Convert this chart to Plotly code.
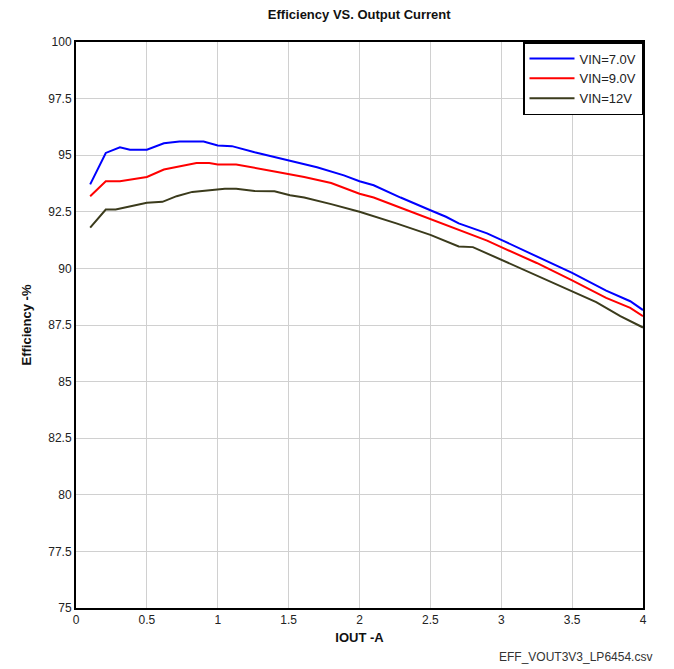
import plotly.graph_objects as go

iout_7 = [0.1, 0.21, 0.31, 0.38, 0.5, 0.62, 0.73, 0.9, 1.0, 1.1, 1.26, 1.42, 1.51, 1.7, 1.89, 2.0, 2.1, 2.29, 2.5, 2.61, 2.7, 2.9, 3.0, 3.25, 3.5, 3.74, 3.91, 4.0]
eff_7 = [93.71, 95.1, 95.35, 95.24, 95.24, 95.53, 95.61, 95.6, 95.43, 95.4, 95.13, 94.88, 94.74, 94.47, 94.11, 93.85, 93.67, 93.13, 92.57, 92.28, 91.99, 91.55, 91.26, 90.53, 89.8, 89.02, 88.55, 88.16]

iout_9 = [0.1, 0.21, 0.31, 0.38, 0.5, 0.62, 0.73, 0.85, 0.94, 1.0, 1.13, 1.26, 1.42, 1.61, 1.8, 2.0, 2.1, 2.29, 2.5, 2.61, 2.9, 3.0, 3.25, 3.5, 3.74, 3.91, 4.0]
eff_9 = [93.19, 93.85, 93.85, 93.93, 94.04, 94.37, 94.5, 94.65, 94.65, 94.59, 94.59, 94.43, 94.26, 94.04, 93.77, 93.3, 93.13, 92.68, 92.17, 91.92, 91.23, 90.94, 90.24, 89.47, 88.7, 88.26, 87.89]

iout_12 = [0.1, 0.21, 0.28, 0.38, 0.5, 0.61, 0.71, 0.82, 0.94, 1.05, 1.13, 1.26, 1.4, 1.51, 1.61, 1.8, 2.0, 2.26, 2.5, 2.7, 2.8, 3.0, 3.25, 3.5, 3.67, 3.84, 4.0]
eff_12 = [91.8, 92.6, 92.6, 92.75, 92.9, 92.94, 93.19, 93.38, 93.45, 93.52, 93.52, 93.42, 93.41, 93.23, 93.13, 92.84, 92.5, 91.99, 91.48, 90.97, 90.94, 90.38, 89.68, 88.99, 88.51, 87.89, 87.39]

series = [
    ("VIN=7.0V", iout_7, eff_7, "#0000ff"),
    ("VIN=9.0V", iout_9, eff_9, "#ff0000"),
    ("VIN=12V", iout_12, eff_12, "#3b3b1c"),
]

x_ticks = [0, 0.5, 1, 1.5, 2, 2.5, 3, 3.5, 4]
x_tick_text = ["0", "0.5", "1", "1.5", "2", "2.5", "3", "3.5", "4"]
y_ticks = [75, 77.5, 80, 82.5, 85, 87.5, 90, 92.5, 95, 97.5, 100]
y_tick_text = ["75", "77.5", "80", "82.5", "85", "87.5", "90", "92.5", "95", "97.5", "100"]

fig = go.Figure()
for name, xs, ys, col in series:
    fig.add_trace(go.Scatter(x=xs, y=ys, mode="lines", name=name,
                             line=dict(color=col, width=2)))

font_family = "Liberation Sans, Arial, sans-serif"
fig.update_layout(
    width=674, height=669,
    margin=dict(l=76, r=31, t=42, b=61),
    paper_bgcolor="white", plot_bgcolor="white",
    font=dict(family=font_family, size=12, color="#222222"),
    title=dict(text="<b>Efficiency VS. Output Current</b>", x=0.533, xanchor="center",
               y=0.978, yanchor="middle", font=dict(size=13, color="#111111")),
    showlegend=True,
    legend=dict(x=1, y=1, xanchor="right", yanchor="top",
                bordercolor="black", borderwidth=1.5, bgcolor="white",
                font=dict(size=13, color="#222222"),
                tracegroupgap=0, itemwidth=45),
    xaxis=dict(range=[0, 4], tickvals=x_ticks, ticktext=x_tick_text,
               showgrid=True, gridcolor="#d0d0d0", gridwidth=1,
               showline=True, linecolor="black", linewidth=2, mirror=True,
               ticks="", zeroline=False,
               title=dict(text="<b>IOUT -A</b>", font=dict(size=13, color="#111111"), standoff=6)),
    yaxis=dict(range=[75, 100], tickvals=y_ticks, ticktext=y_tick_text,
               showgrid=True, gridcolor="#d0d0d0", gridwidth=1,
               showline=True, linecolor="black", linewidth=2, mirror=True,
               ticks="", zeroline=False,
               title=dict(text="<b>Efficiency -%</b>", font=dict(size=13, color="#111111"), standoff=14)),
    annotations=[dict(text="EFF_VOUT3V3_LP6454.csv", xref="paper", yref="paper",
                      x=1.02, y=-0.086, xanchor="right", yanchor="middle", showarrow=False,
                      font=dict(size=12, color="#333333"))],
)

fig.write_html("out.html")
